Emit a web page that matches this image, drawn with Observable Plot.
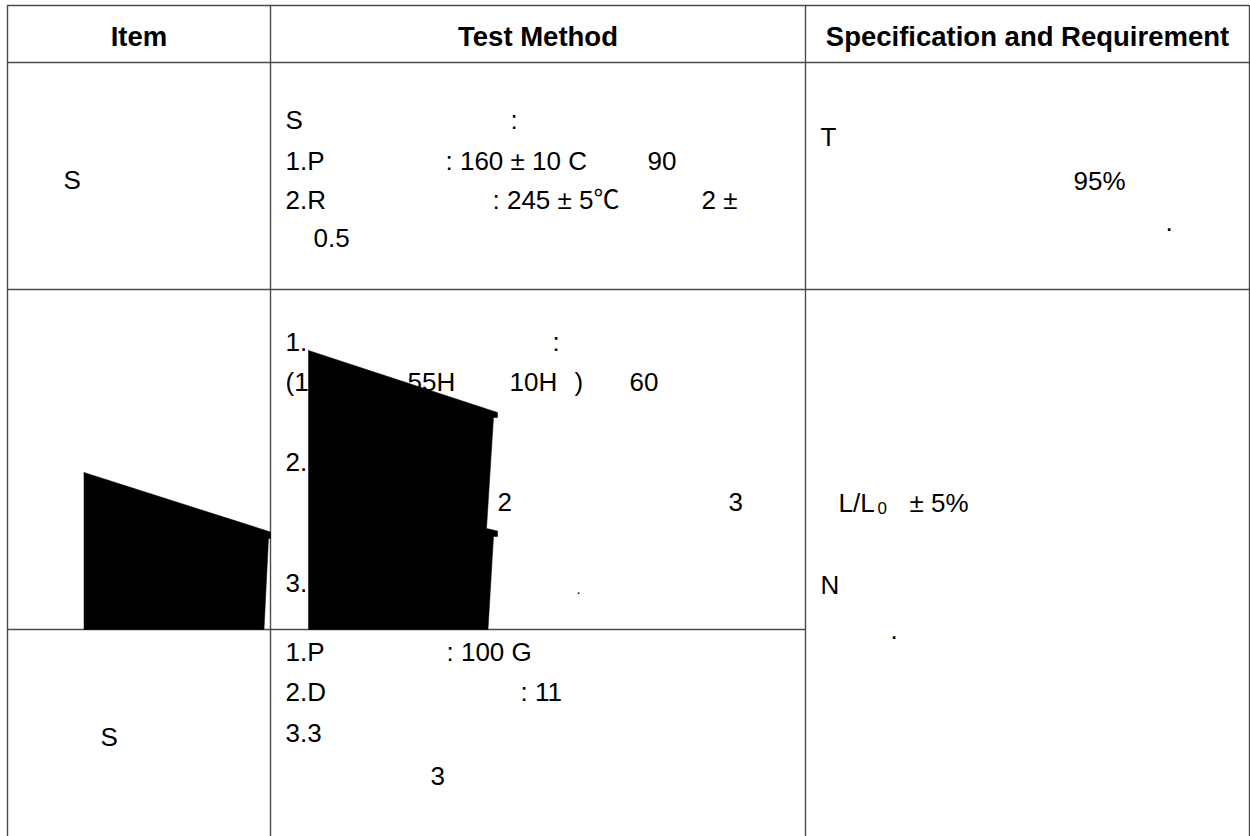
<!DOCTYPE html>
<html>
<head>
<meta charset="utf-8">
<script src="https://cdn.jsdelivr.net/npm/d3@7"></script>
<script src="https://cdn.jsdelivr.net/npm/@observablehq/plot@0.6"></script>
<style>
  html, body { margin: 0; padding: 0; background: #ffffff; }
  #chart svg { display: block; }
</style>
</head>
<body>
<div id="chart"></div>
<script>
// ---- table grid (in table units, origin top-left) ----
const gridX = [7, 270, 805, 1249];          // column boundaries
const gridY = [5, 62, 289, 629, 836];       // row boundaries (spec column merges rows 2-3)

// ---- header labels ----
const headerLabels = ["Item", "Test Method", "Specification and Requirement"];

// ---- cell text runs ----
const itemLabels = [
  {text: "S", x: 63, y: 180},
  {text: "S", x: 100, y: 737}
];
const methodLines = [
  {text: "S", x: 285, y: 120}, {text: ":", x: 510, y: 120},
  {text: "1.P", x: 285, y: 161}, {text: ": 160 ± 10 C", x: 445, y: 161}, {text: "90", x: 647, y: 161},
  {text: "2.R", x: 285, y: 200}, {text: ": 245 ± 5℃", x: 492, y: 200}, {text: "2 ±", x: 701, y: 200},
  {text: "0.5", x: 313, y: 238},
  {text: "1.", x: 285, y: 342}, {text: ":", x: 552, y: 342},
  {text: "(1", x: 285, y: 382}, {text: "55H", x: 407, y: 382}, {text: "10H", x: 509, y: 382},
  {text: ")", x: 574, y: 382}, {text: "60", x: 629, y: 382},
  {text: "2.", x: 285, y: 462},
  {text: "2", x: 497, y: 502}, {text: "3", x: 728, y: 502},
  {text: "3.", x: 285, y: 583},
  {text: "1.P", x: 285, y: 652}, {text: ": 100 G", x: 446, y: 652},
  {text: "2.D", x: 285, y: 692}, {text: ": 11", x: 520, y: 692},
  {text: "3.3", x: 285, y: 733},
  {text: "3", x: 430, y: 776}
];
const smallDots = [{text: ".", x: 576, y: 589}];
const specLines = [
  {text: "T", x: 820, y: 137}, {text: "95%", x: 1073, y: 181}, {text: ".", x: 1165, y: 222},
  {text: "L/L", x: 838, y: 503}, {text: "± 5%", x: 909, y: 503},
  {text: "N", x: 820, y: 585}, {text: ".", x: 890, y: 630}
];
const subscriptLabels = [{text: "0", x: 877, y: 508}];

// ---- black overlay shapes (outline vertices) ----
const shapeA = [[83.5, 472], [270, 531.5], [270, 538], [268, 538], [263.5, 629], [83.5, 629]];
const shapeB = [[308, 350], [497, 412], [497, 417], [493, 417], [486, 528], [497, 530.5],
                [497, 536], [493, 536], [487.5, 629], [308, 629]];

// ---- derived tables for the marks ----
const hRules = gridY.slice(0, 3).map(y => ({y, x1: gridX[0], x2: gridX[3]}))
  .concat([{y: gridY[3], x1: gridX[0], x2: gridX[2]}]);
const vRules = gridX.map(x => ({x, y1: gridY[0], y2: gridY[4]}));
const headerData = headerLabels.map((text, i) => ({text, x: (gridX[i] + gridX[i + 1]) / 2, y: 37}));
const shapes = [
  ...shapeA.map(([x, y]) => ({shape: "A", x, y})),
  ...shapeA.slice(0, 1).map(([x, y]) => ({shape: "A", x, y})),
  ...shapeB.map(([x, y]) => ({shape: "B", x, y})),
  ...shapeB.slice(0, 1).map(([x, y]) => ({shape: "B", x, y}))
];

const FONT = "'Liberation Sans', Arial, 'Noto Sans CJK SC', sans-serif";

const chart = Plot.plot({
  width: 1250,
  height: 836,
  margin: 0,
  x: {domain: [0, 1250], range: [0, 1250], axis: null},
  y: {domain: [0, 836], range: [0, 836], axis: null},
  style: {fontFamily: FONT, background: "#ffffff", color: "#000"},
  marks: [
    Plot.ruleY(hRules, {y: "y", x1: "x1", x2: "x2", stroke: "#4a4a4a", strokeWidth: 1.4}),
    Plot.ruleX(vRules, {x: "x", y1: "y1", y2: "y2", stroke: "#4a4a4a", strokeWidth: 1.4}),
    Plot.text(headerData, {x: "x", y: "y", text: "text", textAnchor: "middle",
      fontSize: 27.5, fontWeight: "bold", fill: "#000"}),
    Plot.text(itemLabels, {x: "x", y: "y", text: "text", textAnchor: "start", fontSize: 26, fill: "#000"}),
    Plot.text(methodLines, {x: "x", y: "y", text: "text", textAnchor: "start", fontSize: 26, fill: "#000"}),
    Plot.text(smallDots, {x: "x", y: "y", text: "text", textAnchor: "start", fontSize: 15, fill: "#000"}),
    Plot.text(specLines, {x: "x", y: "y", text: "text", textAnchor: "start", fontSize: 26, fill: "#000"}),
    Plot.text(subscriptLabels, {x: "x", y: "y", text: "text", textAnchor: "start", fontSize: 17, fill: "#000"}),
    Plot.line(shapes, {x: "x", y: "y", z: "shape", fill: "#000", stroke: "#000", strokeWidth: 0.5})
  ]
});
document.getElementById("chart").appendChild(chart);
</script>
</body>
</html>
